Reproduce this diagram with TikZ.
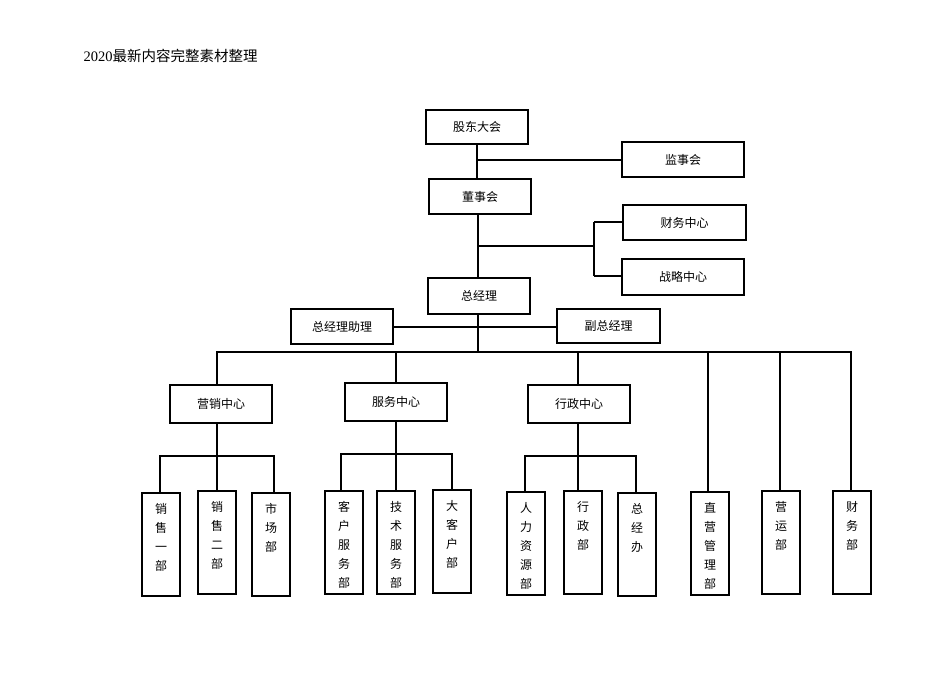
\documentclass[tikz,border=0pt]{standalone}
\usepackage{fontspec}
\setmainfont{Liberation Serif}
\newfontfamily\cjk{Noto Sans CJK SC}
\begin{document}
\begin{tikzpicture}[x=1pt,y=-1pt,
  bx/.style={draw,line width=1.6pt,font=\cjk\fontsize{12}{14}\selectfont},
  vr/.style={draw,line width=1.6pt,minimum width=38,minimum height=103,anchor=north},
  vt/.style={align=center,font=\cjk\fontsize{12}{19}\selectfont,anchor=north,inner sep=0pt},
  ln/.style={line width=2.2pt}]
\useasboundingbox (0,0) rectangle (950,672);
\node[anchor=west,font=\fontsize{14.5}{16}\selectfont] (hd) at (80,56) {2020\cjk 最新内容完整素材整理};
\newcommand\bb[6]{\node[bx,minimum width=#4-#2,minimum height=#5-#3] (#1) at ({(#2+#4)/2},{(#3+#5)/2}) {#6};}
\bb{gd}{426}{110}{528}{144}{股东大会}
\bb{js}{622}{142}{744}{177}{监事会}
\bb{ds}{429}{179}{531}{214}{董事会}
\bb{cw}{623}{205}{746}{240}{财务中心}
\bb{zl}{622}{259}{744}{295}{战略中心}
\bb{zj}{428}{278}{530}{314}{总经理}
\bb{zz}{291}{309}{393}{344}{总经理助理}
\bb{fz}{557}{309}{660}{343}{副总经理}
\bb{yx}{170}{385}{272}{423}{营销中心}
\bb{fw}{345}{383}{447}{421}{服务中心}
\bb{xz}{528}{385}{630}{423}{行政中心}
\newcommand\vb[4]{\node[vr] (#1) at (#2,#3) {}; \node[vt] (#1t) at (#2,#3+11) {#4};}
\vb{b1}{161}{492}{销\\售\\一\\部}
\vb{b2}{217}{490}{销\\售\\二\\部}
\vb{b3}{271}{492}{市\\场\\部}
\vb{b4}{344}{490}{客\\户\\服\\务\\部}
\vb{b5}{396}{490}{技\\术\\服\\务\\部}
\vb{b6}{452}{489}{大\\客\\户\\部}
\vb{b7}{526}{491}{人\\力\\资\\源\\部}
\vb{b8}{583}{490}{行\\政\\部}
\vb{b9}{637}{492}{总\\经\\办}
\vb{b10}{710}{491}{直\\营\\管\\理\\部}
\vb{b11}{781}{490}{营\\运\\部}
\vb{b12}{852}{490}{财\\务\\部}
% top
\draw[ln] (gd.south -| 477,0) -- (ds.north -| 477,0);
\draw[ln] (477,160) -- (js.west |- 0,160);
\draw[ln] (ds.south -| 478,0) -- (zj.north -| 478,0);
\draw[ln] (478,246) -- (594,246) (594,222) -- (594,276);
\draw[ln] (594,222) -- (cw.west |- 0,222) (594,276) -- (zl.west |- 0,276);
\draw[ln] (zj.south -| 478,0) -- (478,352);
\draw[ln] (zz.east |- 0,327) -- (fz.west |- 0,327);
\draw[ln] (217,385) -- (217,352) -- (851,352) -- (b12.north -| 851,0);
\draw[ln] (396,352) -- (fw.north -| 396,0);
\draw[ln] (578,352) -- (xz.north -| 578,0);
\draw[ln] (708,352) -- (b10.north -| 708,0);
\draw[ln] (780,352) -- (b11.north -| 780,0);
% sub
\draw[ln] (yx.south -| 217,0) -- (b2.north -| 217,0);
\draw[ln] (b1.north -| 160,0) -- (160,456) -- (274,456) -- (b3.north -| 274,0);
\draw[ln] (fw.south -| 396,0) -- (b5.north -| 396,0);
\draw[ln] (b4.north -| 341,0) -- (341,454) -- (452,454) -- (b6.north -| 452,0);
\draw[ln] (xz.south -| 578,0) -- (b8.north -| 578,0);
\draw[ln] (b7.north -| 525,0) -- (525,456) -- (636,456) -- (b9.north -| 636,0);
\end{tikzpicture}
\end{document}
